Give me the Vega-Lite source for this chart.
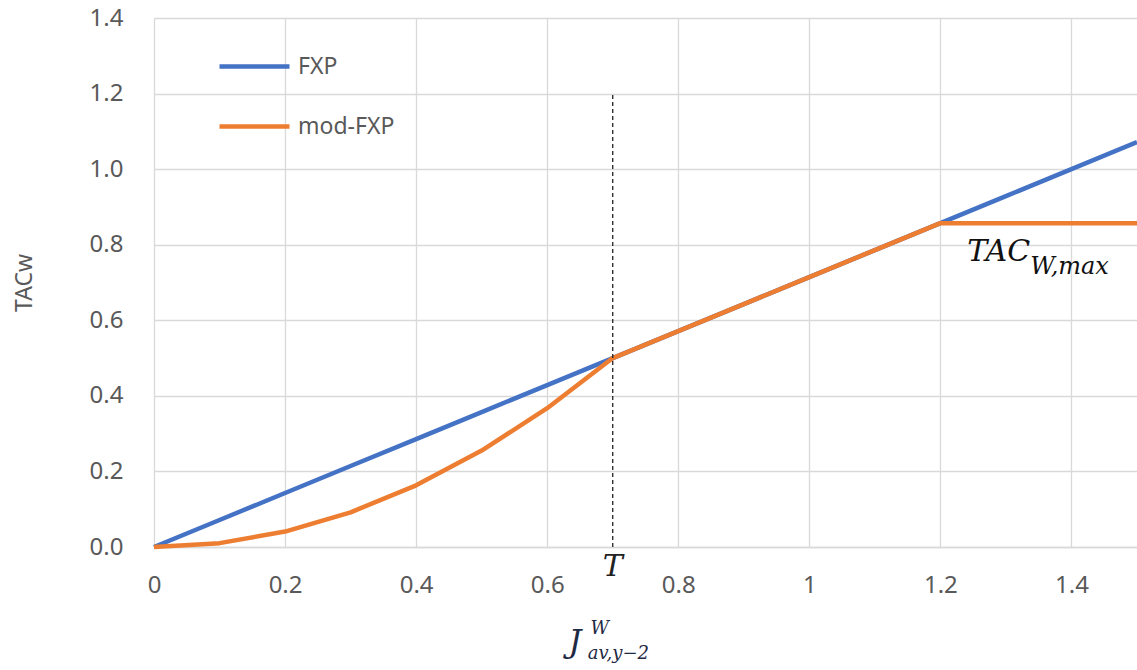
{
  "$schema": "https://vega.github.io/schema/vega-lite/v6.json",
  "autosize": "none",
  "width": 983,
  "height": 529,
  "padding": {"left": 154, "top": 18, "right": 0, "bottom": 123},
  "background": "white",
  "config": {
    "view": {"stroke": null},
    "font": "Noto Sans",
    "axis": {
      "labelFont": "Noto Sans",
      "labelFontSize": 24,
      "labelColor": "#595959",
      "labelFlush": false,
      "labelOverlap": false,
      "titleFont": "Noto Sans",
      "titleColor": "#595959",
      "titleFontWeight": "normal",
      "gridColor": "#d9d9d9",
      "gridWidth": 1.3,
      "ticks": false
    }
  },
  "datasets": {
    "lines": [
      {"x": 0.0, "series": "FXP", "y": 0.0},
      {"x": 0.1, "series": "FXP", "y": 0.0714},
      {"x": 0.2, "series": "FXP", "y": 0.1429},
      {"x": 0.3, "series": "FXP", "y": 0.2143},
      {"x": 0.4, "series": "FXP", "y": 0.2857},
      {"x": 0.5, "series": "FXP", "y": 0.3571},
      {"x": 0.6, "series": "FXP", "y": 0.4286},
      {"x": 0.7, "series": "FXP", "y": 0.5},
      {"x": 0.8, "series": "FXP", "y": 0.5714},
      {"x": 0.9, "series": "FXP", "y": 0.6429},
      {"x": 1.0, "series": "FXP", "y": 0.7143},
      {"x": 1.1, "series": "FXP", "y": 0.7857},
      {"x": 1.2, "series": "FXP", "y": 0.8571},
      {"x": 1.3, "series": "FXP", "y": 0.9286},
      {"x": 1.4, "series": "FXP", "y": 1.0},
      {"x": 1.5, "series": "FXP", "y": 1.0714},
      {"x": 0.0, "series": "mod-FXP", "y": 0.0},
      {"x": 0.1, "series": "mod-FXP", "y": 0.0102},
      {"x": 0.2, "series": "mod-FXP", "y": 0.0408},
      {"x": 0.3, "series": "mod-FXP", "y": 0.0918},
      {"x": 0.4, "series": "mod-FXP", "y": 0.1633},
      {"x": 0.5, "series": "mod-FXP", "y": 0.2551},
      {"x": 0.6, "series": "mod-FXP", "y": 0.3673},
      {"x": 0.7, "series": "mod-FXP", "y": 0.5},
      {"x": 0.8, "series": "mod-FXP", "y": 0.5714},
      {"x": 0.9, "series": "mod-FXP", "y": 0.6429},
      {"x": 1.0, "series": "mod-FXP", "y": 0.7143},
      {"x": 1.1, "series": "mod-FXP", "y": 0.7857},
      {"x": 1.2, "series": "mod-FXP", "y": 0.8571},
      {"x": 1.3, "series": "mod-FXP", "y": 0.8571},
      {"x": 1.4, "series": "mod-FXP", "y": 0.8571},
      {"x": 1.5, "series": "mod-FXP", "y": 0.8571}
    ],
    "threshold": [
      {"x": 0.7, "y0": 0.0, "y1": 1.2}
    ],
    "notes": [
      {"label": "T", "x": 0.7, "y": -0.053, "role": "main", "anchor": "center"},
      {"label": "TAC", "x": 1.337, "y": 0.781, "role": "main", "anchor": "right"},
      {"label": "W,max", "x": 1.337, "y": 0.742, "role": "sub", "anchor": "left"}
    ],
    "xtitle": [
      {"label": "J", "x": 0.652, "y": -0.251, "role": "main"},
      {"label": "W", "x": 0.666, "y": -0.218, "role": "sup"},
      {"label": "av,y−2", "x": 0.662, "y": -0.283, "role": "sub"}
    ]
  },
  "layer": [
    {
      "data": {"name": "lines"},
      "mark": {"type": "line", "strokeWidth": 4.5, "strokeCap": "butt", "strokeJoin": "round"},
      "encoding": {
        "x": {
          "field": "x", "type": "quantitative",
          "scale": {"domain": [0, 1.5], "nice": false, "zero": true},
          "axis": {
            "values": [0, 0.2, 0.4, 0.6, 0.8, 1, 1.2, 1.4],
            "format": "~g",
            "title": null,
            "labelPadding": 26,
            "domain": true,
            "domainColor": "#d9d9d9",
            "domainWidth": 1.3,
            "grid": true
          }
        },
        "y": {
          "field": "y", "type": "quantitative",
          "scale": {"domain": [0, 1.4], "nice": false, "zero": true},
          "axis": {
            "values": [0, 0.2, 0.4, 0.6, 0.8, 1.0, 1.2, 1.4],
            "format": ".1f",
            "title": "TACw",
            "titleFontSize": 23,
            "titlePadding": 53,
            "labelPadding": 31,
            "domain": false,
            "grid": true
          }
        },
        "color": {
          "field": "series", "type": "nominal",
          "scale": {"domain": ["FXP", "mod-FXP"], "range": ["#4472C4", "#ED7D31"]},
          "legend": {
            "title": null,
            "orient": "none",
            "legendX": 63,
            "legendY": 11,
            "symbolType": "M-1,0H1",
            "symbolSize": 4900,
            "symbolStrokeWidth": 4.5,
            "labelFont": "Noto Sans",
            "labelFontSize": 23,
            "labelColor": "#595959",
            "labelOffset": 6,
            "rowPadding": 10
          }
        }
      }
    },
    {
      "data": {"name": "threshold"},
      "mark": {"type": "rule", "color": "#222222", "strokeWidth": 1.3, "strokeDash": [4, 3]},
      "encoding": {
        "x": {"field": "x", "type": "quantitative"},
        "y": {"field": "y0", "type": "quantitative"},
        "y2": {"field": "y1"}
      }
    },
    {
      "data": {"name": "notes"},
      "transform": [{"filter": "datum.role === 'main' && datum.anchor === 'center'"}],
      "mark": {"type": "text", "font": "DejaVu Serif", "fontStyle": "italic", "fontSize": 30, "align": "center", "baseline": "middle", "color": "#222222"},
      "encoding": {
        "x": {"field": "x", "type": "quantitative"},
        "y": {"field": "y", "type": "quantitative"},
        "text": {"field": "label"}
      }
    },
    {
      "data": {"name": "notes"},
      "transform": [{"filter": "datum.role === 'main' && datum.anchor === 'right'"}],
      "mark": {"type": "text", "font": "DejaVu Serif", "fontStyle": "italic", "fontSize": 30, "align": "right", "baseline": "middle", "color": "#111111"},
      "encoding": {
        "x": {"field": "x", "type": "quantitative"},
        "y": {"field": "y", "type": "quantitative"},
        "text": {"field": "label"}
      }
    },
    {
      "data": {"name": "notes"},
      "transform": [{"filter": "datum.role === 'sub'"}],
      "mark": {"type": "text", "font": "DejaVu Serif", "fontStyle": "italic", "fontSize": 24, "align": "left", "baseline": "middle", "color": "#111111"},
      "encoding": {
        "x": {"field": "x", "type": "quantitative"},
        "y": {"field": "y", "type": "quantitative"},
        "text": {"field": "label"}
      }
    },
    {
      "data": {"name": "xtitle"},
      "transform": [{"filter": "datum.role === 'main'"}],
      "mark": {"type": "text", "font": "DejaVu Serif", "fontStyle": "italic", "fontSize": 32, "align": "right", "baseline": "middle", "color": "#1f2a44"},
      "encoding": {
        "x": {"field": "x", "type": "quantitative"},
        "y": {"field": "y", "type": "quantitative"},
        "text": {"field": "label"}
      }
    },
    {
      "data": {"name": "xtitle"},
      "transform": [{"filter": "datum.role !== 'main'"}],
      "mark": {"type": "text", "font": "DejaVu Serif", "fontStyle": "italic", "fontSize": 18, "align": "left", "baseline": "middle", "color": "#1f2a44"},
      "encoding": {
        "x": {"field": "x", "type": "quantitative"},
        "y": {"field": "y", "type": "quantitative"},
        "text": {"field": "label"}
      }
    }
  ]
}
